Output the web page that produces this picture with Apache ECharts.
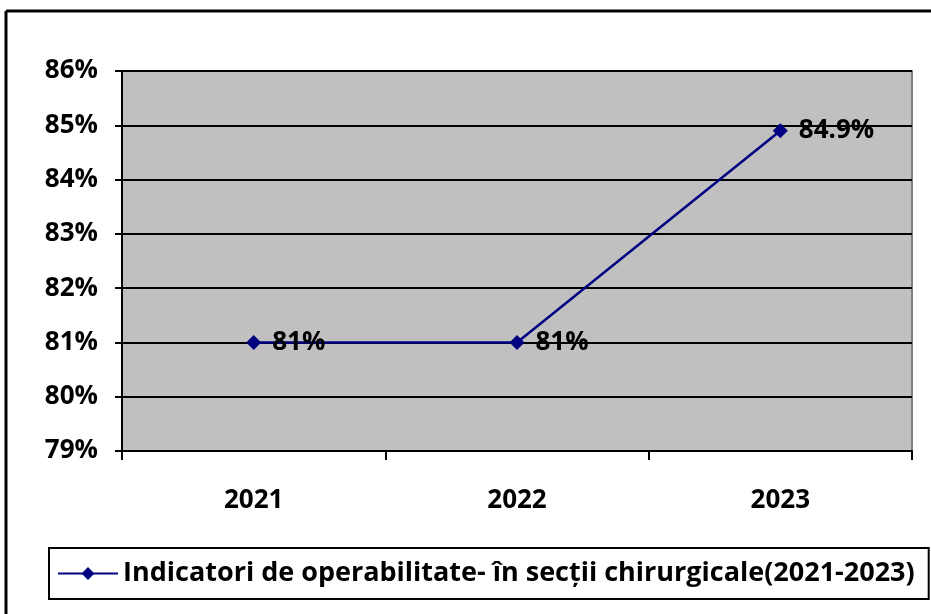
<!DOCTYPE html>
<html>
<head>
<meta charset="utf-8">
<script src="https://cdn.jsdelivr.net/npm/echarts@6/dist/echarts.min.js"></script>
<style>
  html, body { margin: 0; padding: 0; background: #fff; }
  #chart { width: 931px; height: 614px; }
</style>
</head>
<body>
<div id="chart"></div>
<script>
var years = ["2021", "2022", "2023"];
var operabilitate = [81, 81, 84.9];
var seriesName = "Indicatori de operabilitate- în secții chirurgicale(2021-2023)";
var yMin = 79, yMax = 86, yStep = 1;

var font = "Open Sans";
var chart = echarts.init(document.getElementById("chart"), null, { renderer: "canvas" });

var option = {
  backgroundColor: "#ffffff",
  animation: false,
  graphic: [
    // outer frame (only left and top visible in the reference)
    { type: "line", shape: { x1: 6, y1: 11, x2: 6, y2: 614 }, style: { stroke: "#000", lineWidth: 3 } },
    { type: "line", shape: { x1: 6, y1: 11, x2: 931, y2: 11 }, style: { stroke: "#000", lineWidth: 3 } }
  ],
  grid: {
    left: 122,
    top: 71,
    right: 19,
    bottom: 163,
    show: true,
    backgroundColor: "#c0c0c0",
    borderColor: "#808080",
    borderWidth: 2
  },
  legend: {
    left: 49,
    top: 548,
    padding: [12, 14, 12, 8],
    borderColor: "#000",
    borderWidth: 2,
    itemWidth: 60,
    itemHeight: 16,
    textStyle: { fontFamily: font, fontWeight: "bold", fontSize: 27, color: "#000" },
    data: [seriesName]
  },
  xAxis: {
    type: "category",
    data: years,
    boundaryGap: true,
    axisLine: { lineStyle: { color: "#000", width: 2 } },
    axisTick: { show: true, length: 9, lineStyle: { color: "#000", width: 2 } },
    axisLabel: { margin: 37, fontFamily: font, fontWeight: "bold", fontSize: 26, color: "#000" },
    splitLine: { show: false }
  },
  yAxis: {
    type: "value",
    min: yMin,
    max: yMax,
    interval: yStep,
    axisLine: { show: true, lineStyle: { color: "#000", width: 2 } },
    axisTick: { show: true, length: 7, lineStyle: { color: "#000", width: 2 } },
    axisLabel: {
      margin: 24,
      fontFamily: font, fontWeight: "bold", fontSize: 26, color: "#000",
      formatter: "{value}%"
    },
    splitLine: { show: true, lineStyle: { color: "#000", width: 2 } }
  },
  series: [
    {
      name: seriesName,
      type: "line",
      data: operabilitate,
      symbol: "diamond",
      symbolSize: [15, 15],
      itemStyle: { color: "#000080" },
      lineStyle: { color: "#000080", width: 2.5 },
      label: {
        show: true,
        position: "right",
        distance: 11,
        fontFamily: font, fontWeight: "bold", fontSize: 26, color: "#000",
        formatter: function (p) { return p.value + "%"; }
      }
    }
  ]
};

chart.setOption(option);
</script>
</body>
</html>
